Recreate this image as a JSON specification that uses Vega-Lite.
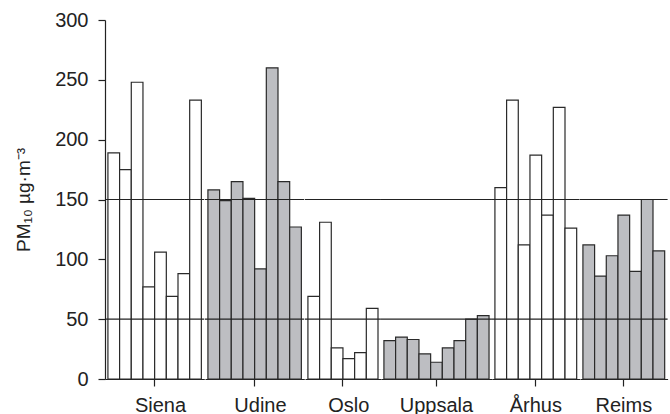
{
  "$schema": "https://vega.github.io/schema/vega-lite/v6.json",
  "background": "white",
  "padding": {"left": 14, "top": 10, "right": 0, "bottom": 0},
  "spacing": 0,
  "bounds": "flush",
  "data": {"values": [
    {"city": "Siena", "b": 1, "pm10": 189}, {"city": "Siena", "b": 2, "pm10": 175}, {"city": "Siena", "b": 3, "pm10": 248}, {"city": "Siena", "b": 4, "pm10": 77},
    {"city": "Siena", "b": 5, "pm10": 106}, {"city": "Siena", "b": 6, "pm10": 69}, {"city": "Siena", "b": 7, "pm10": 88}, {"city": "Siena", "b": 8, "pm10": 233},
    {"city": "Udine", "b": 1, "pm10": 158}, {"city": "Udine", "b": 2, "pm10": 149}, {"city": "Udine", "b": 3, "pm10": 165}, {"city": "Udine", "b": 4, "pm10": 151},
    {"city": "Udine", "b": 5, "pm10": 92}, {"city": "Udine", "b": 6, "pm10": 260}, {"city": "Udine", "b": 7, "pm10": 165}, {"city": "Udine", "b": 8, "pm10": 127},
    {"city": "Oslo", "b": 1, "pm10": 69}, {"city": "Oslo", "b": 2, "pm10": 131}, {"city": "Oslo", "b": 3, "pm10": 26}, {"city": "Oslo", "b": 4, "pm10": 17},
    {"city": "Oslo", "b": 5, "pm10": 22}, {"city": "Oslo", "b": 6, "pm10": 59},
    {"city": "Uppsala", "b": 1, "pm10": 32}, {"city": "Uppsala", "b": 2, "pm10": 35}, {"city": "Uppsala", "b": 3, "pm10": 33}, {"city": "Uppsala", "b": 4, "pm10": 21},
    {"city": "Uppsala", "b": 5, "pm10": 14}, {"city": "Uppsala", "b": 6, "pm10": 26}, {"city": "Uppsala", "b": 7, "pm10": 32}, {"city": "Uppsala", "b": 8, "pm10": 50},
    {"city": "Uppsala", "b": 9, "pm10": 53},
    {"city": "Århus", "b": 1, "pm10": 160}, {"city": "Århus", "b": 2, "pm10": 233}, {"city": "Århus", "b": 3, "pm10": 112}, {"city": "Århus", "b": 4, "pm10": 187},
    {"city": "Århus", "b": 5, "pm10": 137}, {"city": "Århus", "b": 6, "pm10": 227}, {"city": "Århus", "b": 7, "pm10": 126},
    {"city": "Reims", "b": 1, "pm10": 112}, {"city": "Reims", "b": 2, "pm10": 86}, {"city": "Reims", "b": 3, "pm10": 103}, {"city": "Reims", "b": 4, "pm10": 137},
    {"city": "Reims", "b": 5, "pm10": 90}, {"city": "Reims", "b": 6, "pm10": 150}, {"city": "Reims", "b": 7, "pm10": 107}
  ]},
  "config": {
    "view": {"stroke": null},
    "font": "Liberation Sans",
    "axis": {
      "domainColor": "#222", "domainWidth": 1.2, "tickColor": "#222", "tickWidth": 1.2, "tickSize": 7,
      "labelFont": "Liberation Sans", "labelFontSize": 20, "labelColor": "#222", "grid": false,
      "titleFont": "Liberation Sans", "titleFontSize": 19, "titleFontWeight": "normal", "titleColor": "#222"
    }
  },
  "hconcat": [
    {
      "width": {"step": 11.68}, "height": 359,
      "transform": [{"filter": "datum.city === 'Siena'"}],
      "layer": [
        {"mark": {"type": "bar", "fill": "white", "stroke": "#2a2a2a", "strokeWidth": 1.2},
         "encoding": {
           "x": {"field": "b", "type": "ordinal", "scale": {"paddingInner": 0, "paddingOuter": 0.25},
                 "axis": {"title": null, "values": [5], "bandPosition": 0, "labelExpr": "'Siena'", "labelAngle": 0, "labelPadding": 9}},
           "y": {"field": "pm10", "type": "quantitative", "scale": {"domain": [0, 300]},
                 "axis": {"title": "PM₁₀ µg·m⁻³", "values": [0, 50, 100, 150, 200, 250, 300], "labelPadding": 10, "titlePadding": 21}}
         }},
        {"data": {"values": [{"v": 50}, {"v": 150}]}, "mark": {"type": "rule", "color": "#222", "strokeWidth": 1.2},
         "encoding": {"y": {"field": "v", "type": "quantitative"}}}
      ]
    },
    {
      "width": {"step": 11.68}, "height": 359,
      "transform": [{"filter": "datum.city === 'Udine'"}],
      "layer": [
        {"mark": {"type": "bar", "fill": "#bdbec2", "stroke": "#2a2a2a", "strokeWidth": 1.2},
         "encoding": {
           "x": {"field": "b", "type": "ordinal", "scale": {"paddingInner": 0, "paddingOuter": 0.25},
                 "axis": {"title": null, "values": [5], "bandPosition": 0, "labelExpr": "'Udine'", "labelAngle": 0, "labelPadding": 9}},
           "y": {"field": "pm10", "type": "quantitative", "scale": {"domain": [0, 300]}, "axis": null}
         }},
        {"data": {"values": [{"v": 50}, {"v": 150}]}, "mark": {"type": "rule", "color": "#222", "strokeWidth": 1.2},
         "encoding": {"y": {"field": "v", "type": "quantitative"}}}
      ]
    },
    {
      "width": {"step": 11.68}, "height": 359,
      "transform": [{"filter": "datum.city === 'Oslo'"}],
      "layer": [
        {"mark": {"type": "bar", "fill": "white", "stroke": "#2a2a2a", "strokeWidth": 1.2},
         "encoding": {
           "x": {"field": "b", "type": "ordinal", "scale": {"paddingInner": 0, "paddingOuter": 0.25},
                 "axis": {"title": null, "values": [4], "bandPosition": 0, "labelExpr": "'Oslo'", "labelAngle": 0, "labelPadding": 9}},
           "y": {"field": "pm10", "type": "quantitative", "scale": {"domain": [0, 300]}, "axis": null}
         }},
        {"data": {"values": [{"v": 50}, {"v": 150}]}, "mark": {"type": "rule", "color": "#222", "strokeWidth": 1.2},
         "encoding": {"y": {"field": "v", "type": "quantitative"}}}
      ]
    },
    {
      "width": {"step": 11.68}, "height": 359,
      "transform": [{"filter": "datum.city === 'Uppsala'"}],
      "layer": [
        {"mark": {"type": "bar", "fill": "#bdbec2", "stroke": "#2a2a2a", "strokeWidth": 1.2},
         "encoding": {
           "x": {"field": "b", "type": "ordinal", "scale": {"paddingInner": 0, "paddingOuter": 0.25},
                 "axis": {"title": null, "values": [5], "bandPosition": 0.5, "labelExpr": "'Uppsala'", "labelAngle": 0, "labelPadding": 9}},
           "y": {"field": "pm10", "type": "quantitative", "scale": {"domain": [0, 300]}, "axis": null}
         }},
        {"data": {"values": [{"v": 50}, {"v": 150}]}, "mark": {"type": "rule", "color": "#222", "strokeWidth": 1.2},
         "encoding": {"y": {"field": "v", "type": "quantitative"}}}
      ]
    },
    {
      "width": {"step": 11.68}, "height": 359,
      "transform": [{"filter": "datum.city === 'Århus'"}],
      "layer": [
        {"mark": {"type": "bar", "fill": "white", "stroke": "#2a2a2a", "strokeWidth": 1.2},
         "encoding": {
           "x": {"field": "b", "type": "ordinal", "scale": {"paddingInner": 0, "paddingOuter": 0.25},
                 "axis": {"title": null, "values": [4], "bandPosition": 0.5, "labelExpr": "'Århus'", "labelAngle": 0, "labelPadding": 9}},
           "y": {"field": "pm10", "type": "quantitative", "scale": {"domain": [0, 300]}, "axis": null}
         }},
        {"data": {"values": [{"v": 50}, {"v": 150}]}, "mark": {"type": "rule", "color": "#222", "strokeWidth": 1.2},
         "encoding": {"y": {"field": "v", "type": "quantitative"}}}
      ]
    },
    {
      "width": {"step": 11.68}, "height": 359,
      "transform": [{"filter": "datum.city === 'Reims'"}],
      "layer": [
        {"mark": {"type": "bar", "fill": "#bdbec2", "stroke": "#2a2a2a", "strokeWidth": 1.2},
         "encoding": {
           "x": {"field": "b", "type": "ordinal", "scale": {"paddingInner": 0, "paddingOuter": 0.25},
                 "axis": {"title": null, "values": [4], "bandPosition": 0.5, "labelExpr": "'Reims'", "labelAngle": 0, "labelPadding": 9}},
           "y": {"field": "pm10", "type": "quantitative", "scale": {"domain": [0, 300]}, "axis": null}
         }},
        {"data": {"values": [{"v": 50}, {"v": 150}]}, "mark": {"type": "rule", "color": "#222", "strokeWidth": 1.2},
         "encoding": {"y": {"field": "v", "type": "quantitative"}}}
      ]
    }
  ]
}
